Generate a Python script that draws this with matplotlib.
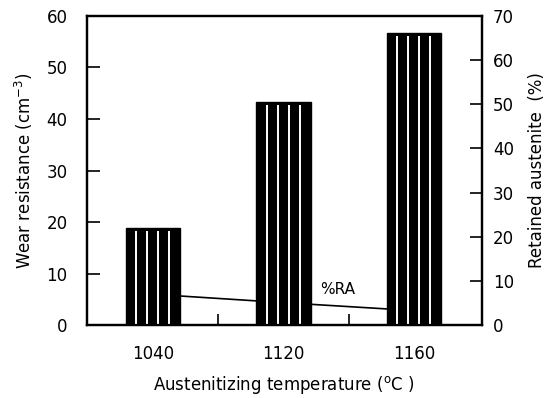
import matplotlib.pyplot as plt
import numpy as np

temps = ["1040", "1120", "1160"]
wear = [18.8, 43.3, 56.7]       # wear resistance (cm^-3)
ra = [7.0, 5.1, 3.3]            # retained austenite (%)

plt.rcParams['font.family'] = 'DejaVu Sans'
plt.rcParams['font.size'] = 12

fig = plt.figure(figsize=(5.5, 3.98), dpi=100)
ax = fig.add_axes([0.158, 0.183, 0.718, 0.777])
ax2 = ax.twinx()

x = np.arange(len(temps))
w = 0.42

# retained austenite line sits behind the bars
ax2.plot(x, ra, color='black', lw=1.2)
ax2.text(1.28, 8.0, "%RA", ha='left', va='center', fontsize=11)

ax.bar(x, wear, width=w, color='black', edgecolor='black', linewidth=1)
# white stripes inside each bar
for xi, h in zip(x, wear):
    for f in (0.2, 0.4, 0.6, 0.8):
        xs = xi - w / 2 + f * w
        ax.plot([xs, xs], [0.3, h - 0.6], color='white', lw=1.4, solid_capstyle='butt')

ax.set_zorder(ax2.get_zorder() + 1)
ax.patch.set_visible(False)

ax.set_xlim(-0.506, 2.52)
ax.set_ylim(0, 60)
ax2.set_ylim(0, 70)

ax.set_xticks(x)
ax.set_xticklabels(temps)
ax.set_xticks([0.5, 1.5], minor=True)
ax.tick_params(axis='x', which='major', length=0, pad=14)
ax.tick_params(axis='x', which='minor', direction='in', length=8, width=1.2)

ax.set_yticks(np.arange(0, 61, 10))
ax.tick_params(axis='y', direction='in', length=9, width=1.2, pad=14)
ax2.set_yticks(np.arange(0, 71, 10))
ax2.tick_params(axis='y', direction='in', length=9, width=1.2, pad=8)

for a in (ax, ax2):
    for s in a.spines.values():
        s.set_linewidth(1.6)

ax.set_xlabel("Austenitizing temperature ($^{\\mathrm{o}}$C )", labelpad=8)
ax.set_ylabel("Wear resistance (cm$^{-3}$)", labelpad=8)
ax2.set_ylabel("Retained austenite  (%)", labelpad=10)

fig.savefig("out.png", dpi=100)
